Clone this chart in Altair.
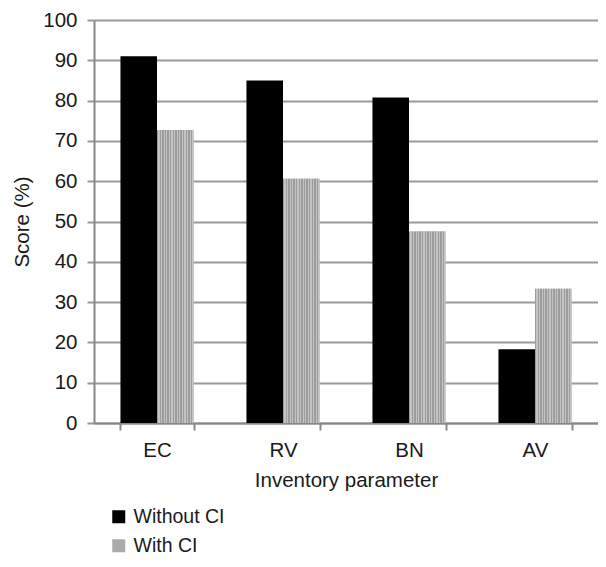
import altair as alt
import pandas as pd

categories = ["EC", "RV", "BN", "AV"]
without_ci = [91.0, 85.0, 80.8, 18.3]
with_ci = [72.7, 60.6, 47.5, 33.3]
series = ["Without CI", "With CI"]

rows = []
for c, a, b in zip(categories, without_ci, with_ci):
    rows.append({"param": c, "series": series[0], "score": a})
    rows.append({"param": c, "series": series[1], "score": b})
df = pd.DataFrame(rows)

FONT = "Liberation Sans"
FS = 20.5

# vertical stripe texture for the "With CI" bars
stops = []
n = 14
for i in range(n):
    a = i / n
    b = (i + 0.5) / n
    c = (i + 1) / n
    stops += [alt.GradientStop(offset=a, color="#9c9c9c"),
              alt.GradientStop(offset=b, color="#9c9c9c"),
              alt.GradientStop(offset=b, color="#c4c4c4"),
              alt.GradientStop(offset=c, color="#c4c4c4")]
stripe = alt.LinearGradient(gradient="linear", stops=stops, x1=0, x2=1, y1=0, y2=0)

x_enc = alt.X("param:N", sort=categories,
              scale=alt.Scale(paddingInner=0.42, paddingOuter=0.21),
              axis=alt.Axis(title="Inventory parameter", labelAngle=0,
                            tickBand="extent", ticks=True, tickSize=7,
                            tickColor="#888", domainColor="#888", domainWidth=2,
                            tickWidth=2, labelPadding=10, titlePadding=10, grid=False))
xoff = alt.XOffset("series:N", sort=series, scale=alt.Scale(domain=series))
y_enc = alt.Y("score:Q", scale=alt.Scale(domain=[0, 100], nice=False),
              axis=alt.Axis(title="Score (%)", values=list(range(0, 101, 10)),
                            tickSize=7, tickColor="#999", tickWidth=2,
                            domainColor="#888", domainWidth=2,
                            gridColor="#9a9a9a", gridWidth=2, labelPadding=10, titlePadding=10))

base = alt.Chart(df).mark_bar(stroke=None).encode(
    x=x_enc, xOffset=xoff, y=y_enc,
    color=alt.Color("series:N", sort=series,
                    scale=alt.Scale(domain=series, range=["#000000", "#ababab"]),
                    legend=alt.Legend(title=None, orient="none", legendX=15, legendY=487,
                                      symbolType="square", symbolSize=169,
                                      rowPadding=8, labelFontSize=19.5, labelFont=FONT,
                                      labelColor="#1a1a1a", symbolStrokeWidth=0,
                                      labelOffset=5)),
)

overlay = alt.Chart(df).transform_filter(
    alt.datum.series == "With CI"
).mark_bar(stroke=None, color=stripe).encode(x=x_enc, xOffset=xoff, y=y_enc)

chart = alt.layer(base, overlay).properties(
    width=504, height=403,
    padding={"left": 86, "top": 12, "right": 0, "bottom": 136},
    autosize=alt.AutoSizeParams(type="none"),
).configure_axis(
    labelFont=FONT, titleFont=FONT, labelFontSize=FS, titleFontSize=FS,
    labelColor="#1a1a1a", titleColor="#1a1a1a", titleFontWeight="normal",
).configure_view(stroke=None)

chart.save("out.html", embed_options={"renderer": "svg", "actions": False})
